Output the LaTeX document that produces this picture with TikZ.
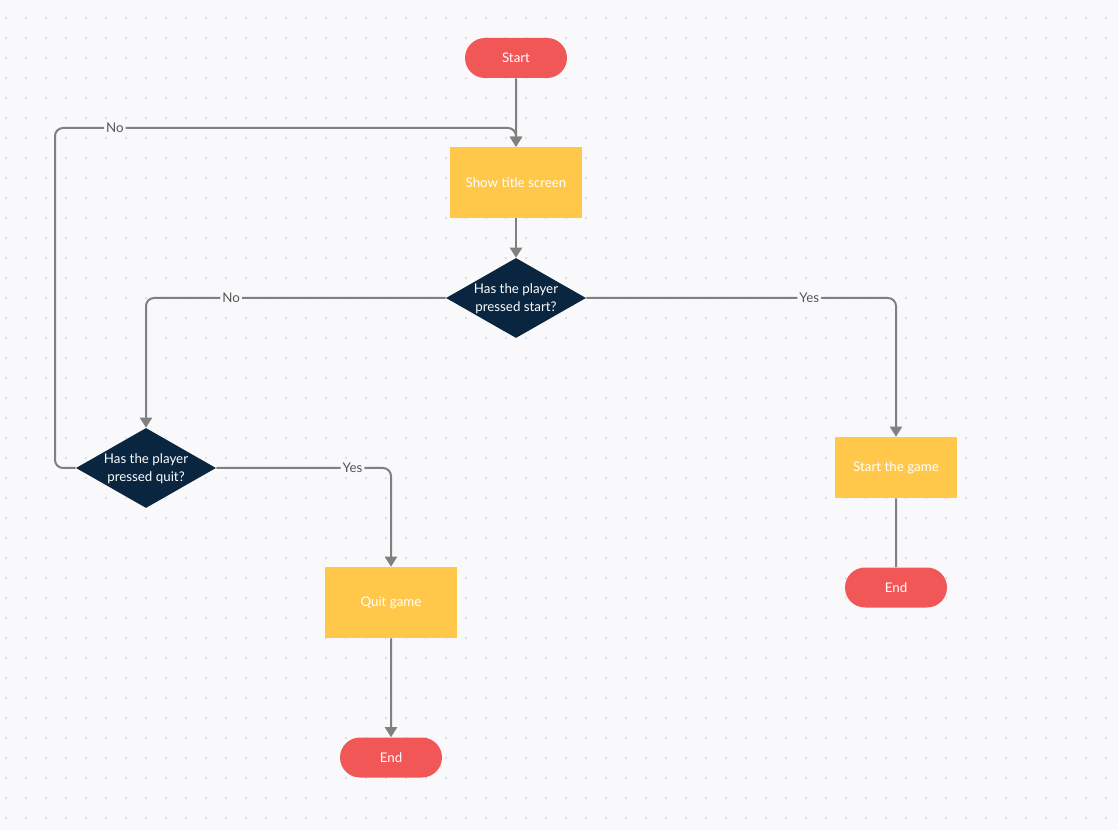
\documentclass[tikz,border=0pt]{standalone}
\usepackage{fontspec}
\setmainfont{Lato}
\usetikzlibrary{shapes.geometric,shapes.misc,arrows.meta}
\definecolor{bg}{HTML}{F9F9FB}
\definecolor{dotc}{HTML}{D6D6DE}
\definecolor{redc}{HTML}{F25757}
\definecolor{yel}{HTML}{FFC84A}
\definecolor{navy}{HTML}{0A2540}
\definecolor{conn}{HTML}{808080}
\definecolor{labc}{HTML}{555555}
\tikzset{
  term/.style={rounded rectangle, fill=redc, text=white, minimum width=76.5pt, minimum height=30pt, inner sep=0pt, font=\fontsize{10}{12}\selectfont},
  proc/.style={rectangle, fill=yel, text=white, inner sep=0pt, font=\fontsize{10}{12}\selectfont},
  dia/.style={diamond, fill=navy, minimum width=105pt, minimum height=60pt, inner sep=0pt},
  diatxt/.style={text=white, align=center, inner sep=0pt, font=\fontsize{10}{13.5}\selectfont},
  link/.style={draw=conn, line width=1.5pt, rounded corners=6pt},
  arr/.style={-{Triangle[length=7.5pt,width=9pt]}},
  lab/.style={fill=bg, text=labc, inner sep=1.5pt, font=\fontsize{10}{12}\selectfont}
}
\begin{document}
\begin{tikzpicture}[x=0.75pt,y=-0.75pt]
\fill[bg] (0,0) rectangle (1118,830);
\useasboundingbox (0,0) rectangle (1118,830);
\foreach \i in {0,...,55} {
  \foreach \j in {0,...,40} {
    \fill[dotc] (6+20*\i,18+20*\j) circle (0.8pt);
  }
}
% nodes
\node[term] (start) at (516,58) {Start};
\node[proc, minimum width=99pt, minimum height=53.25pt] (show) at (516,182.5) {Show title screen};
\node[dia] (d1) at (516,298) {};
\node[diatxt] at ([yshift=-0.75pt]d1.center) {Has the player\\pressed start?};
\node[dia] (d2) at (146,468) {};
\node[diatxt] at ([yshift=-0.75pt]d2.center) {Has the player\\pressed quit?};
\node[proc, minimum width=91.5pt, minimum height=45.75pt] (game) at (896,467.5) {Start the game};
\node[term] (end1) at (896,587.5) {End};
\node[proc, minimum width=99pt, minimum height=53.25pt] (quit) at (391,602.5) {Quit game};
\node[term] (end2) at (391,757.5) {End};
\coordinate (loop) at (55,128);
% connectors
\draw[link,arr] (start) -- (show);
\draw[link,arr] (show) -- (d1.north);
\draw[link,arr] (d1.west) -| node[lab,pos=0.358] {No} (d2.north);
\draw[link,arr] (d1.east) -| node[lab,pos=0.36] {Yes} (game.north);
\draw[link,arr] (d2.east) -| node[lab,pos=0.39] {Yes} (quit.north);
\draw[link,arr] (d2.west) -| (loop) -| node[lab,pos=0.065] {No} (show.north);
\draw[link] (game) -- (end1);
\draw[link,arr] (quit) -- (end2);
\end{tikzpicture}
\end{document}
